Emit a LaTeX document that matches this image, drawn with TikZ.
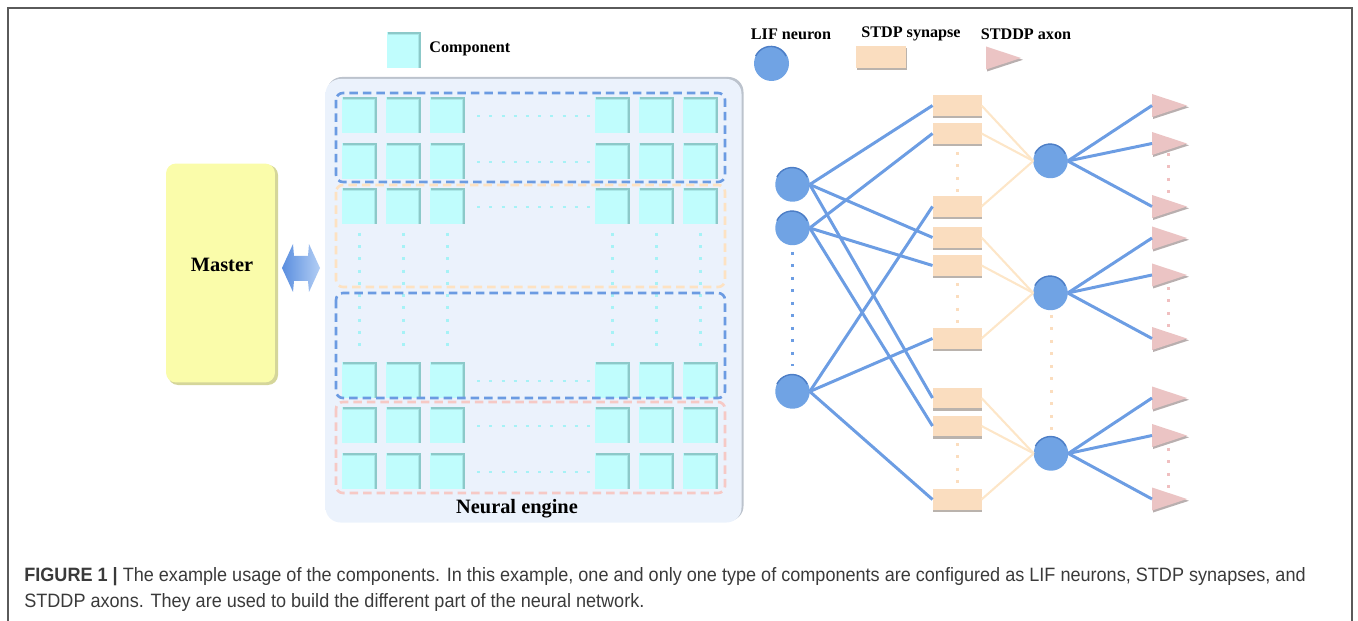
\documentclass[tikz,border=0pt]{standalone}
\usepackage{fontspec}
\setmainfont{Liberation Serif}
\newfontfamily\capfont[FakeStretch=0.935]{Liberation Sans}
\usetikzlibrary{shapes.geometric}

\definecolor{framec}{HTML}{5A5A5A}
\definecolor{compfill}{HTML}{C0FDFD}
\definecolor{compedge}{HTML}{8CC9C9}
\definecolor{compedgeb}{HTML}{AAE8E8}
\definecolor{dotcyan}{HTML}{A6F2F6}
\definecolor{dashblue}{HTML}{6B9BE2}
\definecolor{dashorange}{HTML}{FDE2C2}
\definecolor{dashpink}{HTML}{F6C9C5}
\definecolor{panelside}{HTML}{EBF2FC}
\definecolor{panelmid}{HTML}{FAFCFF}
\definecolor{panelrim}{HTML}{BCC3CD}
\definecolor{masterfill}{HTML}{FAFCAA}
\definecolor{mastershadow}{HTML}{D5D69A}
\definecolor{arrowdark}{HTML}{5A8EDF}
\definecolor{arrowlight}{HTML}{B3CEF4}
\definecolor{neuronfill}{HTML}{70A3E4}
\definecolor{neuronrim}{HTML}{4D7EC6}
\definecolor{linkblue}{HTML}{6C9DE3}
\definecolor{linkorange}{HTML}{FDE6C8}
\definecolor{synfill}{HTML}{FADDBF}
\definecolor{synshadow}{HTML}{BAB3AD}
\definecolor{axonfill}{HTML}{EBC4C4}
\definecolor{axonshadow}{HTML}{B9AFAF}
\definecolor{dotorange}{HTML}{FBDDBE}
\definecolor{dotpink}{HTML}{F0BFC0}
\definecolor{captext}{HTML}{3A3A3A}

% axon triangle with its input point as a named coordinate
\newcommand\axonat[3]{%
  \fill[axonshadow] (#2+1,#3-10) -- (#2+37,#3+1.8) -- (#2+1,#3+13.5) -- cycle;
  \fill[axonfill] (#2,#3-11.5) -- (#2+35,#3) -- (#2,#3+11.5) -- cycle;
  \coordinate (#1) at (#2,#3);
}

\begin{document}
\begin{tikzpicture}[x=0.02cm,y=-0.02cm,
  comp/.style={rectangle, fill=compfill, minimum width=0.7cm, minimum height=0.72cm, inner sep=0, outer sep=0},
  compshade/.style={compedge, line width=1.1pt},
  compshadeb/.style={compedgeb, line width=0.9pt},
  groupbox/.style={line width=1.5pt, dash pattern=on 0.17cm off 0.1cm, rounded corners=0.14cm},
  griddots/.style={dotcyan, line width=1.7pt, dash pattern=on 0.06cm off 0.185cm},
  neuron/.style={circle, fill=neuronfill, minimum size=0.69cm, inner sep=0, outer sep=0},
  synapse/.style={rectangle, fill=synfill, minimum width=0.98cm, minimum height=0.42cm, inner sep=0, outer sep=0,
    preaction={fill=synshadow, transform canvas={xshift=0.5pt, yshift=-1.4pt}}},
  wire/.style={linkblue, line width=1.7pt},
  feed/.style={linkorange, line width=1.2pt},
  netdots/.style={line width=1.7pt, dash pattern=on 0.06cm off 0.19cm},
  legend/.style={font=\bfseries\fontsize{9.2pt}{11pt}\selectfont, inner sep=0},
  caption/.style={font=\capfont\fontsize{11pt}{13pt}\selectfont, text=captext, inner sep=0, anchor=base west}]

\useasboundingbox (0,0) rectangle (1358,621);

% outer frame
\draw[framec, line width=1.1pt] (8,621) -- (8,8) -- (1352,8) -- (1352,621);

% ---------------- master ----------------
\fill[mastershadow, rounded corners=0.2cm] (168,165) rectangle (278,385);
\node[rectangle, fill=masterfill, rounded corners=0.2cm, minimum width=2.18cm, minimum height=4.38cm, inner sep=0] (master) at (220.5,273) {};
\node[font=\bfseries\fontsize{11.6pt}{14pt}\selectfont] (masterlabel) at (222,265) {Master};

% link between master and engine
\shade[left color=arrowdark, right color=arrowlight]
  (282,268) -- (293,244) -- (294,256) -- (308,256) -- (309,244) -- (320,268)
  -- (309,292) -- (308,281) -- (294,281) -- (293,292) -- cycle;

% ---------------- neural engine ----------------
\fill[panelrim, rounded corners=0.3cm] (327,77) rectangle (743.5,521);
\shade[left color=panelside, middle color=panelmid, right color=panelside, rounded corners=0.3cm] (325.5,79) rectangle (741.5,522.5);

\foreach \r/\ry in {1/97,2/143,3/188,4/362,5/407,6/453} {
  \foreach \c/\cx in {1/342,2/386,3/430,4/595,5/639,6/683} {
    \node[comp] (c\r\c) at (\cx+17.5,\ry+18) {};
    \draw[compshadeb] (\cx+1,\ry+2.6) -- (\cx+32.4,\ry+2.6) -- (\cx+32.4,\ry+36);
    \draw[compshade] (\cx+0.5,\ry+1) -- (\cx+34,\ry+1) -- (\cx+34,\ry+36);
  }
  \draw[griddots] (477,\ry+19) -- (592,\ry+19);
}
\foreach \cx in {359.5,403.5,447.5,612.5,656.5,700.5} {
  \draw[griddots] (\cx,233) -- (\cx,349);
}

\draw[groupbox, dashblue]   (336,93)  rectangle (725,182);
\draw[groupbox, dashorange] (336,185) rectangle (725,287);
\draw[groupbox, dashblue]   (336,293) rectangle (725,398);
\draw[groupbox, dashpink]   (336,402) rectangle (725,493);

\node[font=\bfseries\fontsize{11.6pt}{14pt}\selectfont] (nelabel) at (517,509) {Neural engine};

% ---------------- legend ----------------
\node[comp, minimum width=0.68cm] (legcomp) at (404,50) {};
\draw[compshadeb] (388,34.6) -- (418.4,34.6) -- (418.4,68);
\draw[compshade] (387.5,33) -- (420,33) -- (420,68);
\node[legend, anchor=west] (complabel) at (429,49) {Component};

\node[legend] (liflabel) at (791,34) {LIF neuron};
\node[neuron, minimum size=0.7cm] (legneuron) at (771.5,63.5) {};
\node[legend] (stdplabel) at (911,34) {STDP synapse};
\node[synapse, minimum width=1.0cm, minimum height=0.44cm] (legsyn) at (881,57) {};
\node[legend] (axonlabel) at (1026,34) {STDDP axon};
\axonat{legaxon}{986}{58}

% ---------------- network ----------------
\node[neuron] (i1) at (792.5,184.5) {};
\node[neuron] (i2) at (792.5,228) {};
\node[neuron] (i3) at (792.5,391.5) {};

\foreach \n/\sy in {1/105.5,2/133.5,3/206.5,4/237.5,5/265.5,6/338.5,7/398,8/426,9/499.5} {
  \node[synapse] (s\n) at (957,\sy) {};
}

\node[neuron] (o1) at (1050.5,161) {};
\node[neuron] (o2) at (1050.5,293) {};
\node[neuron] (o3) at (1051,453.5) {};

\foreach \n/\ay in {1/105.5,2/143.5,3/206.5,4/238,5/275,6/338.5,7/398,8/435.5,9/499} {
  \axonat{a\n}{1152}{\ay}
}

% rim on the neurons
\foreach \nn in {legneuron,i1,i2,i3,o1,o2,o3} {
  \draw[neuronrim, line width=0.8pt] (\nn.155) arc[start angle=155, end angle=25, radius=0.335cm];
}

% dotted continuations
\draw[netdots, linkblue] (792.5,252) -- (792.5,366);
\foreach \ya/\yb in {152/192,283/325,443/485} {
  \draw[netdots, dotorange] (957,\ya) -- (957,\yb);
}
\draw[netdots, dotorange] (1051,315) -- (1051,432);
\foreach \ya/\yb in {153/196,287/329,448/489} {
  \draw[netdots, dotpink] (1168,\ya) -- (1168,\yb);
}

% input neurons to synapses
\foreach \i/\a/\b/\c in {1/1/4/7, 2/2/5/8, 3/3/6/9} {
  \draw[wire] (i\i.east) -- (s\a.west);
  \draw[wire] (i\i.east) -- (s\b.west);
  \draw[wire] (i\i.east) -- (s\c.west);
}
% synapses to output neurons
\foreach \o/\a/\b/\c in {1/1/2/3, 2/4/5/6, 3/7/8/9} {
  \draw[feed] (s\a.east) -- (o\o.west);
  \draw[feed] (s\b.east) -- (o\o.west);
  \draw[feed] (s\c.east) -- (o\o.west);
}
% output neurons to axons
\foreach \o/\a/\b/\c in {1/1/2/3, 2/4/5/6, 3/7/8/9} {
  \draw[wire] (o\o.east) -- (a\a);
  \draw[wire] (o\o.east) -- (a\b);
  \draw[wire] (o\o.east) -- (a\c);
}

% ---------------- caption ----------------
\node[caption] (cap1) at (24,581) {\textbf{FIGURE 1 |} The example usage of the components. In this example, one and only one type of components are configured as LIF neurons, STDP synapses, and};
\node[caption] (cap2) at (24,607) {STDDP axons. They are used to build the different part of the neural network.};

\end{tikzpicture}
\end{document}
